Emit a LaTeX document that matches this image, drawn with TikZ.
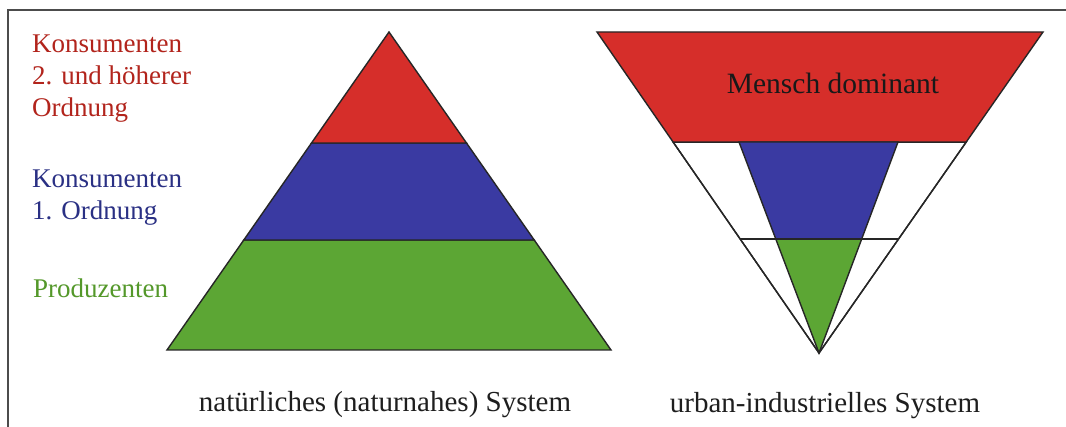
\documentclass[tikz,border=0pt]{standalone}
\usepackage{fontspec}
\setmainfont{Liberation Serif}
\usetikzlibrary{calc}
\definecolor{redfill}{RGB}{214,46,42}
\definecolor{bluefill}{RGB}{58,58,162}
\definecolor{greenfill}{RGB}{92,166,52}
\definecolor{redtext}{RGB}{178,36,28}
\definecolor{bluetext}{RGB}{42,48,132}
\definecolor{greentext}{RGB}{84,152,42}
\definecolor{darktext}{RGB}{30,30,30}
\begin{document}
\begin{tikzpicture}[x=1pt,y=-1pt,
  edge/.style={draw=black!85,line width=1.4pt,line join=miter},
  lbl/.style={inner sep=0pt,anchor=base west,font=\fontsize{27}{32}\selectfont},
  caption/.style={inner sep=0pt,anchor=base,text=darktext,font=\fontsize{29}{34}\selectfont}]
\useasboundingbox (0,0) rectangle (1066,427);
\fill[white] (0,0) rectangle (1066,427);
% frame
\draw[black!70,line width=1.5pt] (8,427) -- (8,10) -- (1066,10);
% left pyramid
\coordinate (A) at (389,32);
\coordinate (BL) at (167,350);
\coordinate (BR) at (611,350);
\coordinate (L1) at ($(A)!0.349!(BL)$);
\coordinate (R1) at ($(A)!0.349!(BR)$);
\coordinate (L2) at ($(A)!0.654!(BL)$);
\coordinate (R2) at ($(A)!0.654!(BR)$);
\path[edge,fill=greenfill] (L2) -- (R2) -- (BR) -- (BL) -- cycle;
\path[edge,fill=bluefill] (L1) -- (R1) -- (R2) -- (L2) -- cycle;
\path[edge,fill=redfill] (A) -- (R1) -- (L1) -- cycle;
% right inverted pyramid
\coordinate (TL) at (597,32);
\coordinate (TR) at (1043,32);
\coordinate (P) at (819,353);
\coordinate (M1) at ($(TL)!0.343!(P)$);
\coordinate (N1) at ($(TR)!0.343!(P)$);
\coordinate (M2) at ($(TL)!0.645!(P)$);
\coordinate (N2) at ($(TR)!0.645!(P)$);
\coordinate (BT1) at (739,142);
\coordinate (BT2) at (898,142);
\coordinate (BB1) at ($(BT1)!0.46!(P)$);
\coordinate (BB2) at ($(BT2)!0.46!(P)$);
\path[edge,fill=white] (M1) -- (N1) -- (P) -- cycle;
\path[edge,fill=redfill] (TL) -- (TR) -- (N1) -- (M1) -- cycle;
\path[edge,fill=bluefill] (BT1) -- (BT2) -- (BB2) -- (BB1) -- cycle;
\path[edge,fill=greenfill] (BB1) -- (BB2) -- (P) -- cycle;
\draw[edge] (M2) -- (N2);
\draw[edge] (M1) -- (P) -- (N1);
% labels
\node[lbl,text=redtext] (k2a) at (32,53) {Konsumenten};
\node[lbl,text=redtext] (k2b) at (32,85) {2. und höherer};
\node[lbl,text=redtext] (k2c) at (32,117) {Ordnung};
\node[lbl,text=bluetext] (k1a) at (32,188) {Konsumenten};
\node[lbl,text=bluetext] (k1b) at (32,220) {1. Ordnung};
\node[lbl,text=greentext] (prod) at (33,298) {Produzenten};
\node[caption,font=\fontsize{29.5}{34}\selectfont,text=black!90] (mensch) at (833,94) {Mensch dominant};
\node[caption] (nat) at (385,412) {natürliches (naturnahes) System};
\node[caption] (urb) at (825,413) {urban-industrielles System};
\end{tikzpicture}
\end{document}
